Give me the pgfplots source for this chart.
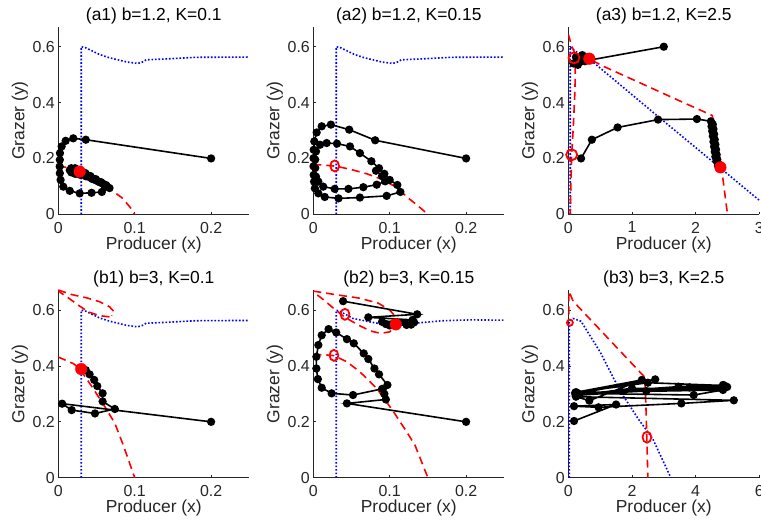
\documentclass[border=0pt]{standalone}
\usepackage{fontspec}
\setmainfont{Liberation Sans}
\usepackage{pgfplots}
\pgfplotsset{compat=1.18}
\definecolor{mgray}{RGB}{38,38,38}
\definecolor{mblue}{RGB}{0,0,255}
\definecolor{mred}{RGB}{255,0,0}

\pgfplotsset{
  panel/.style={
    scale only axis, width=191bp, height=187.7bp, anchor=south west,
    axis x line*=bottom, axis y line*=left,
    axis line style={-, mgray, line width=0.7bp},
    ymin=0, ymax=0.672, ytick={0,0.2,0.4,0.6}, yticklabels={0,0.2,0.4,0.6},
    tick align=inside, major tick length=2.5bp,
    tick style={mgray, line width=0.7bp},
    ticklabel style={font=\fontsize{16}{19}\selectfont, text=mgray, inner sep=0pt},
    xticklabel style={yshift=-7.5bp},
    yticklabel style={xshift=-3.3bp},
    xlabel={Producer (x)}, ylabel={Grazer (y)},
    every axis x label/.style={at={(axis description cs:0.5,0)}, anchor=base, yshift=-35bp,
      font=\fontsize{17.5}{21}\selectfont, text=mgray},
    every axis y label/.style={at={(axis description cs:0,0.5)}, xshift=-34bp, rotate=90, anchor=base,
      font=\fontsize{17.5}{21}\selectfont, text=mgray},
    every axis title/.style={at={(axis description cs:0.5,1)}, anchor=base, yshift=6bp,
      font=\fontsize{17.5}{21}\selectfont, text=black},
  },
  small/.style={xmin=0, xmax=0.25, xtick={0,0.1,0.2}, xticklabels={0,0.1,0.2}},
  nullG/.style={mblue, line width=1.6bp, dash pattern=on 1.6bp off 1.9bp, no markers},
  nullP/.style={mred, line width=1.6bp, dash pattern=on 8bp off 5bp, no markers},
  traj/.style={black, line width=1.6bp, mark=*, mark size=3.3bp, mark options={solid}},
  eqF/.style={only marks, mark=*, mark size=5.8bp, mred},
  eqO/.style={only marks, mark=o, mark size=5.5bp, mred, mark options={line width=1.8bp, fill=white}},
  eqOn/.style={only marks, mark=o, mark size=5.5bp, mred, mark options={line width=1.8bp, fill=white, xscale=0.8}},
}

\begin{document}
\begin{tikzpicture}
% ---------- (a1)
\begin{axis}[panel, small, at={(58.3bp,314.7bp)}, title={(a1) b=1.2, K=0.1}]
\addplot[nullG] coordinates {(0.03,0) (0.03,0.6) (0.036,0.596) (0.045,0.584) (0.054,0.572) (0.065,0.562) (0.075,0.555) (0.09,0.545) (0.104,0.54) (0.11,0.545) (0.115,0.553) (0.14,0.556) (0.18,0.562) (0.25,0.563)};
\addplot[nullP] coordinates {(0,0.172) (0.013,0.167) (0.03,0.15) (0.048,0.123) (0.065,0.095) (0.083,0.06) (0.0935,0.027) (0.1,0)};
\addplot[traj] coordinates {
(0.2,0.2) (0.036,0.267) (0.0196,0.272) (0.0096,0.263) (0.0044,0.243) (0.0022,0.219) (0.002,0.195)
(0.0018,0.171) (0.002,0.147) (0.003,0.123) (0.0065,0.099) (0.015,0.084) (0.028,0.075) (0.0435,0.077)
(0.057,0.08) (0.067,0.094)
(0.062,0.105) (0.056,0.115) (0.049,0.126) (0.042,0.137) (0.035,0.148) (0.028,0.158) (0.022,0.165)
(0.017,0.165) (0.015,0.158) (0.017,0.15) (0.022,0.145) (0.029,0.141) (0.036,0.136) (0.044,0.127)
(0.052,0.118) (0.058,0.11) (0.063,0.103)
(0.060,0.105) (0.054,0.115) (0.047,0.126) (0.04,0.137) (0.033,0.148) (0.027,0.157) (0.021,0.162)
(0.018,0.158) (0.019,0.151) (0.024,0.146) (0.031,0.143) (0.039,0.135) (0.047,0.125) (0.053,0.117)
(0.048,0.123) (0.041,0.134) (0.034,0.146) (0.028,0.155) (0.023,0.158) (0.022,0.152) (0.026,0.148)
(0.032,0.147) (0.036,0.145) (0.031,0.152) (0.028,0.153)};
\addplot[eqF] coordinates {(0.028,0.153)};
\end{axis}
% ---------- (a2)
\begin{axis}[panel, small, at={(313.3bp,314.7bp)}, title={(a2) b=1.2, K=0.15}]
\addplot[nullG] coordinates {(0.03,0) (0.03,0.6) (0.036,0.596) (0.045,0.584) (0.054,0.572) (0.065,0.562) (0.075,0.555) (0.09,0.545) (0.104,0.54) (0.11,0.545) (0.115,0.553) (0.14,0.556) (0.18,0.562) (0.25,0.563)};
\addplot[nullP] coordinates {(0,0.178) (0.01,0.177) (0.03,0.172) (0.05,0.16) (0.07,0.145) (0.09,0.125) (0.11,0.095) (0.122,0.063) (0.135,0.035) (0.15,0)};
\addplot[traj] coordinates {
(0.2,0.2) (0.081,0.265) (0.047,0.303) (0.023,0.321) (0.011,0.315) (0.0044,0.293) (0.0013,0.261)
(0.0005,0.231) (0.0003,0.201) (0.0003,0.172) (0.0005,0.141) (0.001,0.117) (0.002,0.093) (0.0066,0.075)
(0.015,0.062) (0.033,0.057) (0.061,0.06) (0.096,0.066) (0.114,0.08) (0.11,0.105) (0.1,0.123)
(0.093,0.145) (0.086,0.165) (0.076,0.19) (0.061,0.219) (0.048,0.243) (0.031,0.253) (0.0175,0.255)
(0.0088,0.249) (0.0035,0.225) (0.0025,0.196) (0.0025,0.166) (0.0035,0.135) (0.0066,0.117) (0.013,0.099)
(0.028,0.091) (0.046,0.091) (0.0655,0.097) (0.083,0.106) (0.094,0.118) (0.09,0.137) (0.082,0.156)};
\addplot[eqOn] coordinates {(0.028,0.173)};
\end{axis}
% ---------- (a3)
\begin{axis}[panel, at={(568.3bp,314.7bp)}, xmin=0, xmax=3, xtick={0,1,2,3}, xticklabels={0,1,2,3}, title={(a3) b=1.2, K=2.5}]
\addplot[nullG] coordinates {(0.03,0) (0.03,0.6) (0.1,0.585) (0.2,0.572) (0.34,0.554) (1.4,0.352) (2.35,0.173) (3.0,0.05) (3.3,0)};
\addplot[nullP] coordinates {(0,0.645) (0.05,0.605) (0.1,0.578) (0.33,0.556) (0.55,0.53) (1.18,0.465) (1.71,0.41) (2.26,0.354) (2.29,0.32) (2.4,0.177) (2.5,0)};
\addplot[nullP] coordinates {(0.1,0.578) (0.11,0.5) (0.1,0.42) (0.08,0.32) (0.053,0.213) (0.04,0.1) (0.03,0)};
\addplot[traj] coordinates {(1.5,0.6) (0.36,0.553) (0.15,0.535) (0.08,0.54) (0.12,0.563) (0.22,0.57) (0.3,0.562) (0.26,0.548) (0.18,0.545) (0.17,0.556) (0.24,0.562) (0.3,0.558) (0.33,0.557)};
\addplot[traj] coordinates {(0.2,0.2) (0.37,0.267) (0.774,0.311) (1.41,0.339) (2.02,0.341) (2.24,0.333)
(2.27,0.322) (2.25,0.315) (2.28,0.305) (2.26,0.298) (2.29,0.287) (2.27,0.28) (2.30,0.268) (2.28,0.26)
(2.31,0.25) (2.29,0.242) (2.32,0.232) (2.30,0.224) (2.33,0.214) (2.31,0.206) (2.34,0.196) (2.33,0.19)
(2.36,0.18) (2.35,0.175) (2.38,0.17) (2.39,0.168)};
\addplot[eqF] coordinates {(0.33,0.557) (2.39,0.168)};
\addplot[eqO] coordinates {(0.09,0.56) (0.053,0.213)};
\end{axis}
% ---------- (b1)
\begin{axis}[panel, small, at={(58.3bp,51.3bp)}, title={(b1) b=3, K=0.1}]
\addplot[nullG] coordinates {(0.03,0) (0.03,0.6) (0.036,0.596) (0.045,0.584) (0.054,0.572) (0.065,0.562) (0.075,0.555) (0.09,0.545) (0.104,0.54) (0.11,0.545) (0.115,0.553) (0.14,0.556) (0.18,0.562) (0.25,0.563)};
\addplot[nullP] coordinates {(0.067,0.576) (0.054,0.58) (0.039,0.594) (0.026,0.618) (0.011,0.648) (0,0.668)};
\addplot[nullP] coordinates {(0,0.672) (0.017,0.656) (0.037,0.644) (0.054,0.63) (0.067,0.612) (0.073,0.594) (0.07,0.58)};
\addplot[nullP] coordinates {(0,0.432) (0.02,0.408) (0.028,0.39) (0.044,0.326) (0.061,0.254) (0.074,0.195) (0.085,0.117) (0.1,0)};
\addplot[traj] coordinates {(0.2,0.2) (0.005,0.265) (0.0175,0.242) (0.048,0.23) (0.074,0.246) (0.058,0.273) (0.058,0.302) (0.051,0.328) (0.047,0.35) (0.041,0.37) (0.036,0.385) (0.03,0.389)};
\addplot[eqF] coordinates {(0.03,0.389)};
\end{axis}
% ---------- (b2)
\begin{axis}[panel, small, at={(313.3bp,51.3bp)}, title={(b2) b=3, K=0.15}]
\addplot[nullG] coordinates {(0.03,0) (0.03,0.6) (0.036,0.594) (0.052,0.57) (0.074,0.558) (0.092,0.549) (0.107,0.546) (0.127,0.552) (0.17,0.562) (0.205,0.565) (0.25,0.564)};
\addplot[nullP] coordinates {(0,0.668) (0.03,0.655) (0.06,0.643) (0.085,0.625) (0.1,0.6) (0.108,0.575) (0.108,0.548) (0.1,0.522) (0.088,0.517) (0.075,0.525) (0.06,0.545) (0.041,0.575) (0.025,0.61) (0.012,0.64) (0,0.665)};
\addplot[nullP] coordinates {(0,0.44) (0.015,0.44) (0.027,0.437) (0.044,0.415) (0.061,0.379) (0.083,0.32) (0.105,0.236) (0.122,0.165) (0.133,0.117) (0.15,0)};
\addplot[traj] coordinates {(0.2,0.2) (0.044,0.266) (0.095,0.28) (0.09,0.318) (0.052,0.296) (0.024,0.302) (0.011,0.322) (0.006,0.353) (0.004,0.391) (0.004,0.433) (0.0066,0.475) (0.011,0.51) (0.02,0.532) (0.03,0.52) (0.044,0.496) (0.053,0.481) (0.066,0.445) (0.072,0.425) (0.08,0.391) (0.086,0.37) (0.097,0.332) (0.093,0.3)};
\addplot[traj] coordinates {(0.039,0.632) (0.136,0.585) (0.072,0.574) (0.13,0.565) (0.09,0.558) (0.132,0.556) (0.095,0.55) (0.128,0.548) (0.1,0.545) (0.122,0.547) (0.105,0.548) (0.108,0.549)};
\addplot[eqF] coordinates {(0.108,0.549)};
\addplot[eqOn] coordinates {(0.0415,0.585) (0.027,0.438)};
\end{axis}
% ---------- (b3)
\begin{axis}[panel, at={(568.3bp,51.3bp)}, xmin=0, xmax=6, xtick={0,2,4,6}, xticklabels={0,2,4,6}, title={(b3) b=3, K=2.5}]
\addplot[nullG] coordinates {(0.03,0) (0.03,0.56) (0.15,0.57) (0.4,0.56) (1.0,0.45) (1.63,0.31) (2.2,0.21) (2.65,0.14) (3.22,0)};
\addplot[nullP] coordinates {(0.02,0.585) (0.02,0.668) (0.15,0.632) (2.4,0.36) (2.44,0.25) (2.5,0)};
\addplot[traj] coordinates {(0.18,0.203) (1.5,0.262) (0.18,0.256) (0.95,0.252) (3.55,0.266) (5.2,0.277) (0.24,0.29) (0.66,0.276) (2.31,0.35) (0.25,0.306) (2.73,0.352) (0.22,0.3) (3.46,0.326) (4.86,0.332) (0.25,0.298) (3.81,0.323) (4.99,0.325) (0.3,0.302) (3.94,0.296) (4.86,0.314) (0.22,0.305) (2.5,0.34) (4.9,0.33) (0.3,0.295) (2.0,0.32) (4.8,0.32) (2.45,0.31)};
\addplot[eqOn] coordinates {(2.47,0.145)};
\addplot[eqO, mark size=3bp] coordinates {(0.05,0.555)};
\end{axis}
\pgfresetboundingbox
\useasboundingbox (0,0) rectangle (761bp,529bp);
\end{tikzpicture}
\end{document}
